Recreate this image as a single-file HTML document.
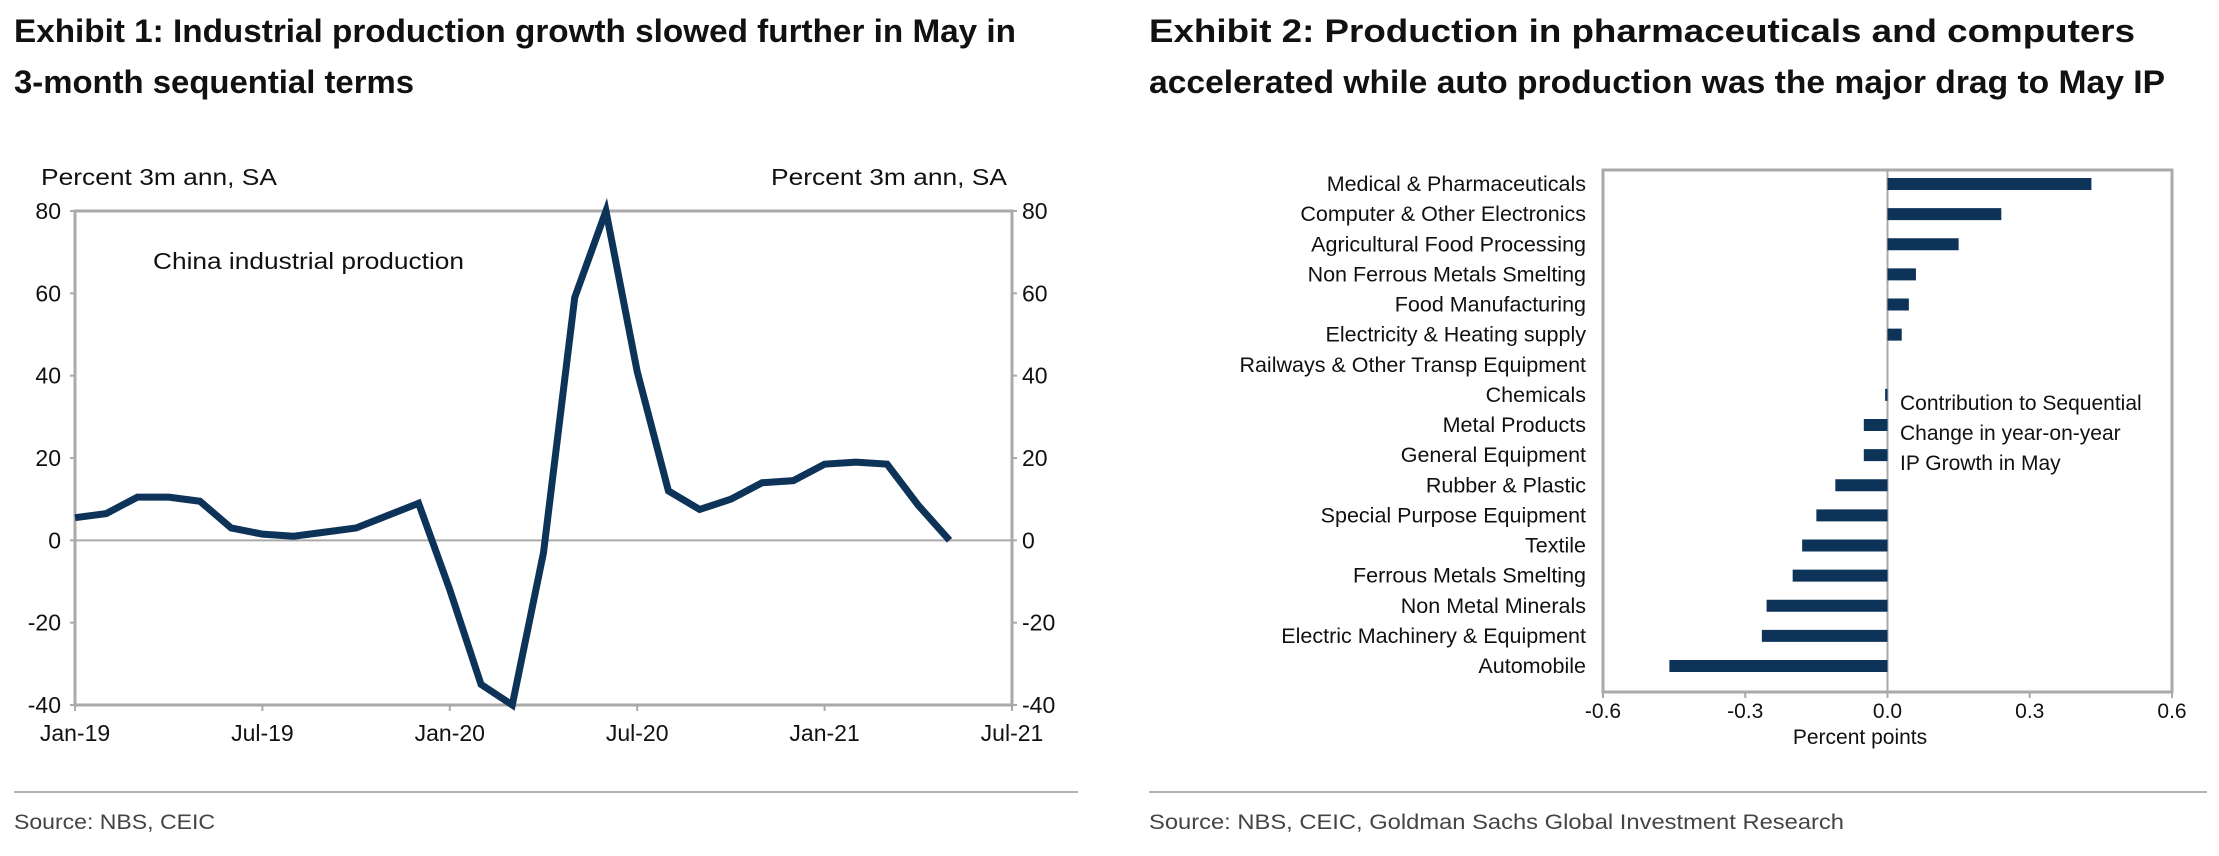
<!DOCTYPE html>
<html><head><meta charset="utf-8"><style>
html,body{margin:0;padding:0;background:#fff;}
svg{display:block;font-family:"Liberation Sans",sans-serif;}
</style></head><body>
<svg id="root" width="2219" height="856" viewBox="0 0 2219 856">
<g font-weight="bold" font-size="32" fill="#111">
<text x="14" y="42" textLength="1002" lengthAdjust="spacingAndGlyphs">Exhibit 1: Industrial production growth slowed further in May in</text>
<text x="14" y="93" textLength="400" lengthAdjust="spacingAndGlyphs">3-month sequential terms</text>
</g>
<g font-weight="bold" font-size="32" fill="#111">
<text x="1149" y="42" textLength="986" lengthAdjust="spacingAndGlyphs">Exhibit 2: Production in pharmaceuticals and computers</text>
<text x="1149" y="93" textLength="1016" lengthAdjust="spacingAndGlyphs">accelerated while auto production was the major drag to May IP</text>
</g>
<g id="left"></g>
<g id="right"></g>
<line x1="14" y1="792" x2="1078" y2="792" stroke="#999" stroke-width="1.5"/>
<line x1="1149" y1="792" x2="2207" y2="792" stroke="#999" stroke-width="1.5"/>
<text x="14" y="829" font-size="21" fill="#444" textLength="201" lengthAdjust="spacingAndGlyphs">Source: NBS, CEIC</text>
<text x="1149" y="829" font-size="21" fill="#444" textLength="695" lengthAdjust="spacingAndGlyphs">Source: NBS, CEIC, Goldman Sachs Global Investment Research</text>
</svg>
<script>
const ipValues = [5.5,6.5,10.5,10.5,9.5,3,1.5,1,2,3,6,9,-12,-35,-40,-3,59,80,41,12,7.5,10,14,14.5,18.5,19,18.5,8.5,0];
const yTicks = [80,60,40,20,0,-20,-40];
const xTickLabels = ["Jan-19","Jul-19","Jan-20","Jul-20","Jan-21","Jul-21"];
const categories = ["Medical & Pharmaceuticals","Computer & Other Electronics","Agricultural Food Processing","Non Ferrous Metals Smelting","Food Manufacturing","Electricity & Heating supply","Railways & Other Transp Equipment","Chemicals","Metal Products","General Equipment","Rubber & Plastic","Special Purpose Equipment","Textile","Ferrous Metals Smelting","Non Metal Minerals","Electric Machinery & Equipment","Automobile"];
const contributions = [0.43,0.24,0.15,0.06,0.045,0.03,0,-0.005,-0.05,-0.05,-0.11,-0.15,-0.18,-0.2,-0.255,-0.265,-0.46];
const xTicksPP = [-0.6,-0.3,0.0,0.3,0.6];

const NS="http://www.w3.org/2000/svg";
function mk(parent,tag,attrs,text){const e=document.createElementNS(NS,tag);for(const k in attrs)e.setAttribute(k,attrs[k]);if(text!==undefined)e.textContent=text;parent.appendChild(e);return e;}

// Left chart
const L=document.getElementById('left');
const lx0=75,lx1=1012,ly0=211,ly1=705;
const xm=i=>lx0+(lx1-lx0)*i/30;
const yv=v=>ly0+(80-v)/120*(ly1-ly0);
let e;
e=mk(L,'rect',{x:lx0,y:ly0,width:lx1-lx0,height:ly1-ly0,fill:'none',stroke:'#aaa','stroke-width':3});


e=mk(L,'line',{x1:lx0,x2:lx1,y1:yv(0),y2:yv(0),stroke:'#aaa','stroke-width':2});


yTicks.forEach(v=>{
  e=mk(L,'text',{x:61,y:yv(v)+8,'font-size':23,'text-anchor':'end',fill:'#111'},String(v));
  
  
  e=mk(L,'text',{x:1022,y:yv(v)+8,'font-size':23,fill:'#111'},String(v));
  
  
  mk(L,'line',{x1:lx0-5,x2:lx0,y1:yv(v),y2:yv(v),stroke:'#aaa','stroke-width':2});
  mk(L,'line',{x1:lx1,x2:lx1+5,y1:yv(v),y2:yv(v),stroke:'#aaa','stroke-width':2});
});
xTickLabels.forEach((t,i)=>{
  const x=xm(i*6);
  mk(L,'line',{x1:x,x2:x,y1:ly1,y2:ly1+6,stroke:'#aaa','stroke-width':2});
  e=mk(L,'text',{x:x,y:741,'font-size':23,'text-anchor':'middle',fill:'#111'},t);
  
  
});
e=mk(L,'text',{x:41,y:185,'font-size':23,fill:'#111',textLength:236,lengthAdjust:'spacingAndGlyphs'},'Percent 3m ann, SA');


e=mk(L,'text',{x:771,y:185,'font-size':23,fill:'#111',textLength:236,lengthAdjust:'spacingAndGlyphs'},'Percent 3m ann, SA');


e=mk(L,'text',{x:153,y:269,'font-size':23,fill:'#111',textLength:311,lengthAdjust:'spacingAndGlyphs'},'China industrial production');


e=mk(L,'polyline',{points:ipValues.map((v,i)=>xm(i)+','+yv(v)).join(' '),fill:'none',stroke:'#0d3359','stroke-width':7,'stroke-linejoin':'miter'});



// Right chart
const R=document.getElementById('right');
const rx0=1603,rx1=2172,ry0=170,ry1=692;
const xp=v=>rx0+(v+0.6)/1.2*(rx1-rx0);
const step=(666-184)/16;
const yc=i=>184+i*step;
e=mk(R,'rect',{x:rx0,y:ry0,width:rx1-rx0,height:ry1-ry0,fill:'none',stroke:'#aaa','stroke-width':3});


e=mk(R,'line',{x1:xp(0),x2:xp(0),y1:ry0,y2:ry1,stroke:'#aaa','stroke-width':2});


categories.forEach((c,i)=>{
  e=mk(R,'text',{x:1586,y:yc(i)+7,'font-size':21.5,'text-anchor':'end',fill:'#111'},c);
  
  
  const v=contributions[i];
  const x=Math.min(xp(0),xp(v)),w=Math.abs(xp(v)-xp(0));
  e=mk(R,'rect',{x:x,y:yc(i)-6,width:Math.max(w,v===0?0:1.5),height:12,fill:'#0d3359'});
  
  
});
xTicksPP.forEach(v=>{
  mk(R,'line',{x1:xp(v),x2:xp(v),y1:ry1,y2:ry1+6,stroke:'#aaa','stroke-width':2});
  e=mk(R,'text',{x:xp(v),y:718,'font-size':21,'text-anchor':'middle',fill:'#111'},v.toFixed(1));
  
  
});
e=mk(R,'text',{x:1860,y:744,'font-size':21,'text-anchor':'middle',fill:'#111'},'Percent points');


['Contribution to Sequential','Change in year-on-year','IP Growth in May'].forEach((t,i)=>{
  e=mk(R,'text',{x:1900,y:410+i*30,'font-size':21,fill:'#111'},t);
  
  
});
</script>
</body></html>
